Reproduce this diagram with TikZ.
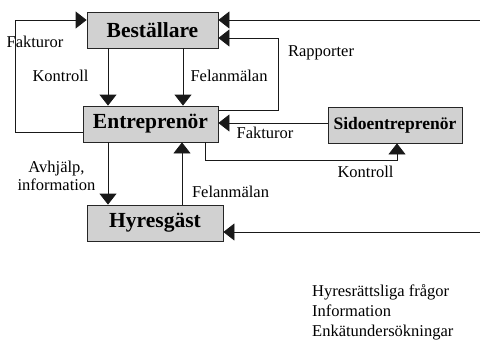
\documentclass[tikz,border=0pt]{standalone}
\usepackage{fontspec}
\setmainfont{Liberation Serif}
\usetikzlibrary{arrows.meta}
\begin{document}
\begin{tikzpicture}[x=1pt,y=-1pt,
  party/.style={draw=black!85, line width=0.8pt, fill=black!18,
    minimum height=36pt, inner sep=0pt, font=\bfseries\fontsize{21.5}{24}\selectfont},
  flow/.style={draw=black!90, line width=0.8pt, -{Triangle[width=17pt,length=11pt]}},
  lbl/.style={font=\fontsize{16.5}{18}\selectfont, inner sep=0pt},
]
\useasboundingbox (0,0) rectangle (480,343);

% parties
\node[party, minimum width=131pt] (best) at (152.5,30) {Beställare};
\node[party, minimum width=135pt] (ent)  at (150.5,124) {Entreprenör};
\node[party, minimum width=136pt] (hyr)  at (155,223) {Hyresgäst};
\node[party, minimum width=134pt, font=\bfseries\fontsize{17.5}{20}\selectfont] (side) at (395,125) {Sidoentreprenör};

% corner points of the bent connectors
\coordinate (lb) at (15,132);
\coordinate (lt) at (15,20);
\coordinate (rb) at (278,110);
\coordinate (rt) at (278,38);
\coordinate (kb) at (205,160);
\coordinate (kr) at (397,160);
\coordinate (topend) at (480,20);
\coordinate (botend) at (480,232);

% connectors
\draw[flow] (ent.west |- lb) -- (lb) -- (lt) -- (best.west |- lt);
\draw[flow] (best.south -| 108,0) -- (ent.north -| 108,0);
\draw[flow] (best.south -| 183,0) -- (ent.north -| 183,0);
\draw[flow] (ent.east |- rb) -- (rb) -- (rt) -- (best.east |- rt);
\draw[flow] (topend) -- (best.east |- topend);
\draw[flow] (side.west |- 0,123) -- (ent.east |- 0,123);
\draw[flow] (ent.south -| kb) -- (kb) -- (kr) -- (side.south -| kr);
\draw[flow] (ent.south -| 108,0) -- (hyr.north -| 108,0);
\draw[flow] (hyr.north -| 182,0) -- (ent.south -| 182,0);
\draw[flow] (botend) -- (hyr.east |- botend);

% labels
\node[lbl] (l1) at (35,42) {Fakturor};
\node[lbl] (l2) at (60.5,76) {Kontroll};
\node[lbl] (l3) at (229,76) {Felanmälan};
\node[lbl] (l4) at (321,53) {Rapporter};
\node[lbl] (l5) at (265,133) {Fakturor};
\node[lbl] (l6) at (365.5,172) {Kontroll};
\node[lbl, align=center] (l7) at (56.5,176) {Avhjälp,\\information};
\node[lbl] (l8) at (230.5,192) {Felanmälan};
\node[lbl, anchor=north west, align=left, font=\fontsize{16.5}{20}\selectfont] (l9) at (312,284)
  {Hyresrättsliga frågor\\Information\\Enkätundersökningar};
\end{tikzpicture}
\end{document}
